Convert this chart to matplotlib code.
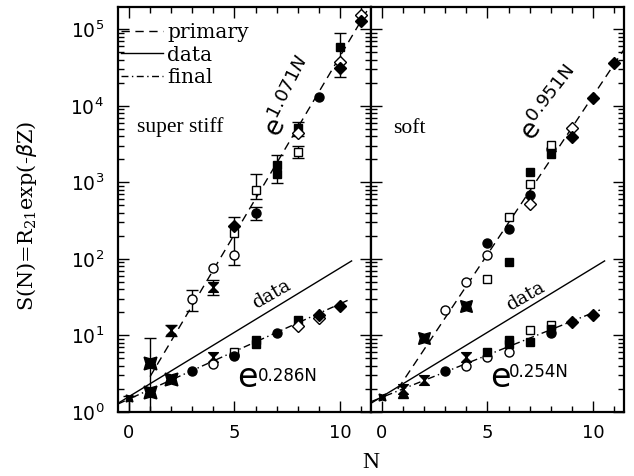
import matplotlib
matplotlib.use("Agg")
import matplotlib.pyplot as plt
from matplotlib.path import Path
from matplotlib.ticker import FixedLocator, FixedFormatter, NullFormatter, LogLocator

# ---------------- data ----------------
x_ticks = [0, 5, 10]
x_tick_labels = ["0", "5", "10"]
y_ticks = [1, 10, 100, 1000, 10000, 100000]
y_tick_labels = [r"$\mathregular{10^{0}}$", r"$\mathregular{10^{1}}$", r"$\mathregular{10^{2}}$",
                 r"$\mathregular{10^{3}}$", r"$\mathregular{10^{4}}$", r"$\mathregular{10^{5}}$"]

# fitted lines (end points)
data_line_N = [-0.5, 10.55]
data_line_S = [1.31, 94.0]
stiff_primary_N = [1.0, 11.5]
stiff_primary_S = [2.9, 2.2e5]
stiff_final_N = [-0.5, 10.4]
stiff_final_S = [1.28, 29.0]
soft_primary_N = [0.75, 11.5]
soft_primary_S = [2.0, 5.6e4]
soft_final_N = [-0.5, 10.33]
soft_final_S = [1.37, 21.5]

# super stiff panel points
stiff_star_N = [1, 1, 2]
stiff_star_S = [4.4, 1.82, 2.7]
stiff_smallstar_N = [0]
stiff_smallstar_S = [1.52]
stiff_bowtie_N = [2, 4, 4]
stiff_bowtie_S = [11.8, 43, 5.2]
stiff_ocirc_N = [3, 4, 5, 4, 5]
stiff_ocirc_S = [30, 76, 112, 4.2, 5.6]
stiff_osq_N = [5, 6, 8, 5]
stiff_osq_S = [220, 790, 2470, 6.1]
stiff_fcirc_N = [6, 9, 3, 5, 7]
stiff_fcirc_S = [395, 12900, 3.4, 5.4, 10.7]
stiff_fsq_N = [7, 7, 8, 10, 6, 6, 8]
stiff_fsq_S = [1700, 1300, 5100, 58500, 8.7, 7.7, 15.9]
stiff_odia_N = [8, 10, 11, 8, 9]
stiff_odia_S = [4400, 37000, 152000, 13.3, 17]
stiff_fdia_N = [5, 10, 11, 9, 10]
stiff_fdia_S = [270, 31000, 127000, 18.5, 24]

# error bars (super stiff)
stiff_err_N = [0, 1, 2, 3, 4, 5, 6, 6, 7, 8, 8, 10]
stiff_err_S = [1.52, 4.4, 11.8, 30, 43, 150, 395, 790, 1500, 2470, 5100, 45000]
stiff_err_lo = [0.9, 0.9, 9.8, 21, 34, 83, 320, 600, 980, 2070, 4000, 23600]
stiff_err_hi = [1.6, 9.3, 13.7, 39, 53, 350, 470, 1290, 2270, 2980, 6100, 89000]

# soft panel points
soft_star_N = [2, 4]
soft_star_S = [9.3, 24]
soft_smallstar_N = [0]
soft_smallstar_S = [1.55]
soft_bowtie_N = [1, 2, 4]
soft_bowtie_S = [2.0, 2.6, 5.2]
soft_tri_N = [1]
soft_tri_S = [1.75]
soft_ocirc_N = [3, 4, 5, 4, 5, 6]
soft_ocirc_S = [21.5, 50, 112, 4.0, 5.2, 6.1]
soft_fcirc_N = [5, 6, 7, 8, 3, 8]
soft_fcirc_S = [160, 245, 680, 2700, 3.4, 10.7]
soft_osq_N = [5, 6, 7, 8, 7, 8]
soft_osq_S = [55, 350, 950, 3100, 11.7, 13.7]
soft_fsq_N = [6, 7, 8, 5, 6, 6, 7, 8]
soft_fsq_S = [91, 1350, 2350, 6.1, 8.7, 7.7, 8.2, 12]
soft_odia_N = [7, 9]
soft_odia_S = [520, 5100]
soft_fdia_N = [9, 10, 11, 9, 10]
soft_fdia_S = [3900, 12600, 36000, 15, 18.5]

# ---------------- style ----------------
SERIF = "DejaVu Serif"
TIMES = "Liberation Serif"
SANS = "DejaVu Sans"
plt.rcParams["mathtext.fontset"] = "dejavusans"

bowtie = Path([(-1, 1), (1, 1), (-1, -1), (1, -1), (-1, 1)],
              [Path.MOVETO, Path.LINETO, Path.LINETO, Path.LINETO, Path.CLOSEPOLY])
star4 = (4, 1, 45)

fig = plt.figure(figsize=(6.34, 4.76), dpi=100)
left, right, bottom, top = 118 / 634, 624 / 634, 1 - 412 / 476, 1 - 7 / 476
w = (right - left) / 2
axL = fig.add_axes([left, bottom, w, top - bottom])
axR = fig.add_axes([left + w, bottom, w, top - bottom], sharey=axL)

dash_primary = (0, (6, 4))
dash_final = (0, (5, 2.5, 1, 2.5))
LW = 1.0


def draw_pts(ax, N, S, marker, filled, ms=6.5, mew=1.0):
    ax.plot(N, S, linestyle="none", marker=marker, ms=ms,
            markerfacecolor="black" if filled else "white",
            markeredgecolor="black", markeredgewidth=mew, zorder=5)


for ax in (axL, axR):
    ax.set_yscale("log")
    ax.set_xlim(-0.52, 11.47)
    ax.set_ylim(1, 1.95e5)
    ax.plot(data_line_N, data_line_S, color="black", lw=LW, ls="-", zorder=3)
    for s in ax.spines.values():
        s.set_linewidth(1.6)
    ax.xaxis.set_major_locator(FixedLocator(x_ticks))
    ax.xaxis.set_major_formatter(FixedFormatter(x_tick_labels))
    ax.xaxis.set_minor_locator(FixedLocator(range(0, 12)))
    ax.yaxis.set_major_locator(FixedLocator(y_ticks))
    ax.yaxis.set_minor_locator(LogLocator(base=10, subs=range(2, 10), numticks=20))
    ax.yaxis.set_minor_formatter(NullFormatter())
    ax.tick_params(which="both", direction="in", top=True, right=True, width=1.0)
    ax.tick_params(which="major", length=8)
    ax.tick_params(which="minor", length=4)
    ax.tick_params(axis="x", which="major", labelsize=13, pad=9)
    ax.tick_params(axis="y", which="major", labelsize=13.5, pad=10)
    for lab in ax.get_xticklabels():
        lab.set_family(SANS)

axL.yaxis.set_major_formatter(FixedFormatter(y_tick_labels))
axR.tick_params(axis="y", which="both", labelleft=False)

# ---- super stiff panel ----
axL.plot(stiff_primary_N, stiff_primary_S, color="black", lw=LW, ls=dash_primary, zorder=3)
axL.plot(stiff_final_N, stiff_final_S, color="black", lw=LW, ls=dash_final, zorder=3)
yerr = [[s - lo for s, lo in zip(stiff_err_S, stiff_err_lo)],
        [hi - s for s, hi in zip(stiff_err_S, stiff_err_hi)]]
axL.errorbar(stiff_err_N, stiff_err_S, yerr=yerr, fmt="none", ecolor="black",
             elinewidth=1.0, capsize=4, capthick=1.0, zorder=4)
draw_pts(axL, stiff_star_N, stiff_star_S, star4, True, ms=13)
draw_pts(axL, stiff_smallstar_N, stiff_smallstar_S, star4, True, ms=7)
draw_pts(axL, stiff_bowtie_N, stiff_bowtie_S, bowtie, True, ms=7)
draw_pts(axL, stiff_ocirc_N, stiff_ocirc_S, "o", False)
draw_pts(axL, stiff_osq_N, stiff_osq_S, "s", False, ms=6)
draw_pts(axL, stiff_fcirc_N, stiff_fcirc_S, "o", True)
draw_pts(axL, stiff_fsq_N, stiff_fsq_S, "s", True, ms=6)
draw_pts(axL, stiff_odia_N, stiff_odia_S, "D", False, ms=6)
draw_pts(axL, stiff_fdia_N, stiff_fdia_S, "D", True, ms=6)

# ---- soft panel ----
axR.plot(soft_primary_N, soft_primary_S, color="black", lw=LW, ls=dash_primary, zorder=3)
axR.plot(soft_final_N, soft_final_S, color="black", lw=LW, ls=dash_final, zorder=3)
draw_pts(axR, soft_star_N, soft_star_S, star4, True, ms=12)
draw_pts(axR, soft_smallstar_N, soft_smallstar_S, star4, True, ms=7)
draw_pts(axR, soft_bowtie_N, soft_bowtie_S, bowtie, True, ms=7)
draw_pts(axR, soft_tri_N, soft_tri_S, "^", True, ms=7)
draw_pts(axR, soft_ocirc_N, soft_ocirc_S, "o", False)
draw_pts(axR, soft_fcirc_N, soft_fcirc_S, "o", True)
draw_pts(axR, soft_osq_N, soft_osq_S, "s", False, ms=6)
draw_pts(axR, soft_fsq_N, soft_fsq_S, "s", True, ms=6)
draw_pts(axR, soft_odia_N, soft_odia_S, "D", False, ms=6)
draw_pts(axR, soft_fdia_N, soft_fdia_S, "D", True, ms=6)

# ---- legend ----
h1, = axL.plot([], [], color="black", lw=LW, ls=dash_primary)
h2, = axL.plot([], [], color="black", lw=LW, ls="-")
h3, = axL.plot([], [], color="black", lw=LW, ls=dash_final)
axL.legend([h1, h2, h3], ["primary", "data", "final"], loc="upper left",
           bbox_to_anchor=(-0.045, 0.995), frameon=False, handlelength=2.1,
           handletextpad=0.2, labelspacing=0.17, borderaxespad=0.3,
           prop={"family": SERIF, "size": 14.5})

# ---- annotations ----
axL.text(0.38, 4550, "super stiff", family=TIMES, fontsize=15.5, ha="left", va="baseline")
axR.text(0.52, 4400, "soft", family=TIMES, fontsize=15.5, ha="left", va="baseline")
axL.text(6.78, 34.7, "data", family=SERIF, fontsize=13.5, rotation=30,
         ha="center", va="center", rotation_mode="anchor")
axR.text(6.82, 32.6, "data", family=SERIF, fontsize=13.5, rotation=30,
         ha="center", va="center", rotation_mode="anchor")
axL.text(5.12, 2.12, "e", family=SANS, fontsize=24, ha="left", va="baseline")
axL.text(6.1, 2.55, "0.286N", family=SANS, fontsize=12, ha="left", va="baseline")
axR.text(5.12, 2.12, "e", family=SANS, fontsize=24, ha="left", va="baseline")
axR.text(6.0, 2.9, "0.254N", family=SANS, fontsize=12, ha="left", va="baseline")
axL.text(7.7, 12600, r"$\mathsf{e}^{\mathit{1.071N}}$", fontsize=19, rotation=63,
         ha="center", va="center", rotation_mode="anchor")
axR.text(8.06, 10200, r"$\mathsf{e}^{0.951\mathsf{N}}$", fontsize=19, rotation=52,
         ha="center", va="center", rotation_mode="anchor")

fig.text(27 / 634, 1 - 216 / 476, r"S(N)=R$_{\mathregular{21}}$exp(-$\beta$Z)", family=SERIF,
         fontsize=15, rotation=90, ha="center", va="center")
fig.text(371 / 634, 1 - 462 / 476, "N", family=TIMES, fontsize=17, ha="center", va="center")

fig.savefig("out.png", dpi=100)
